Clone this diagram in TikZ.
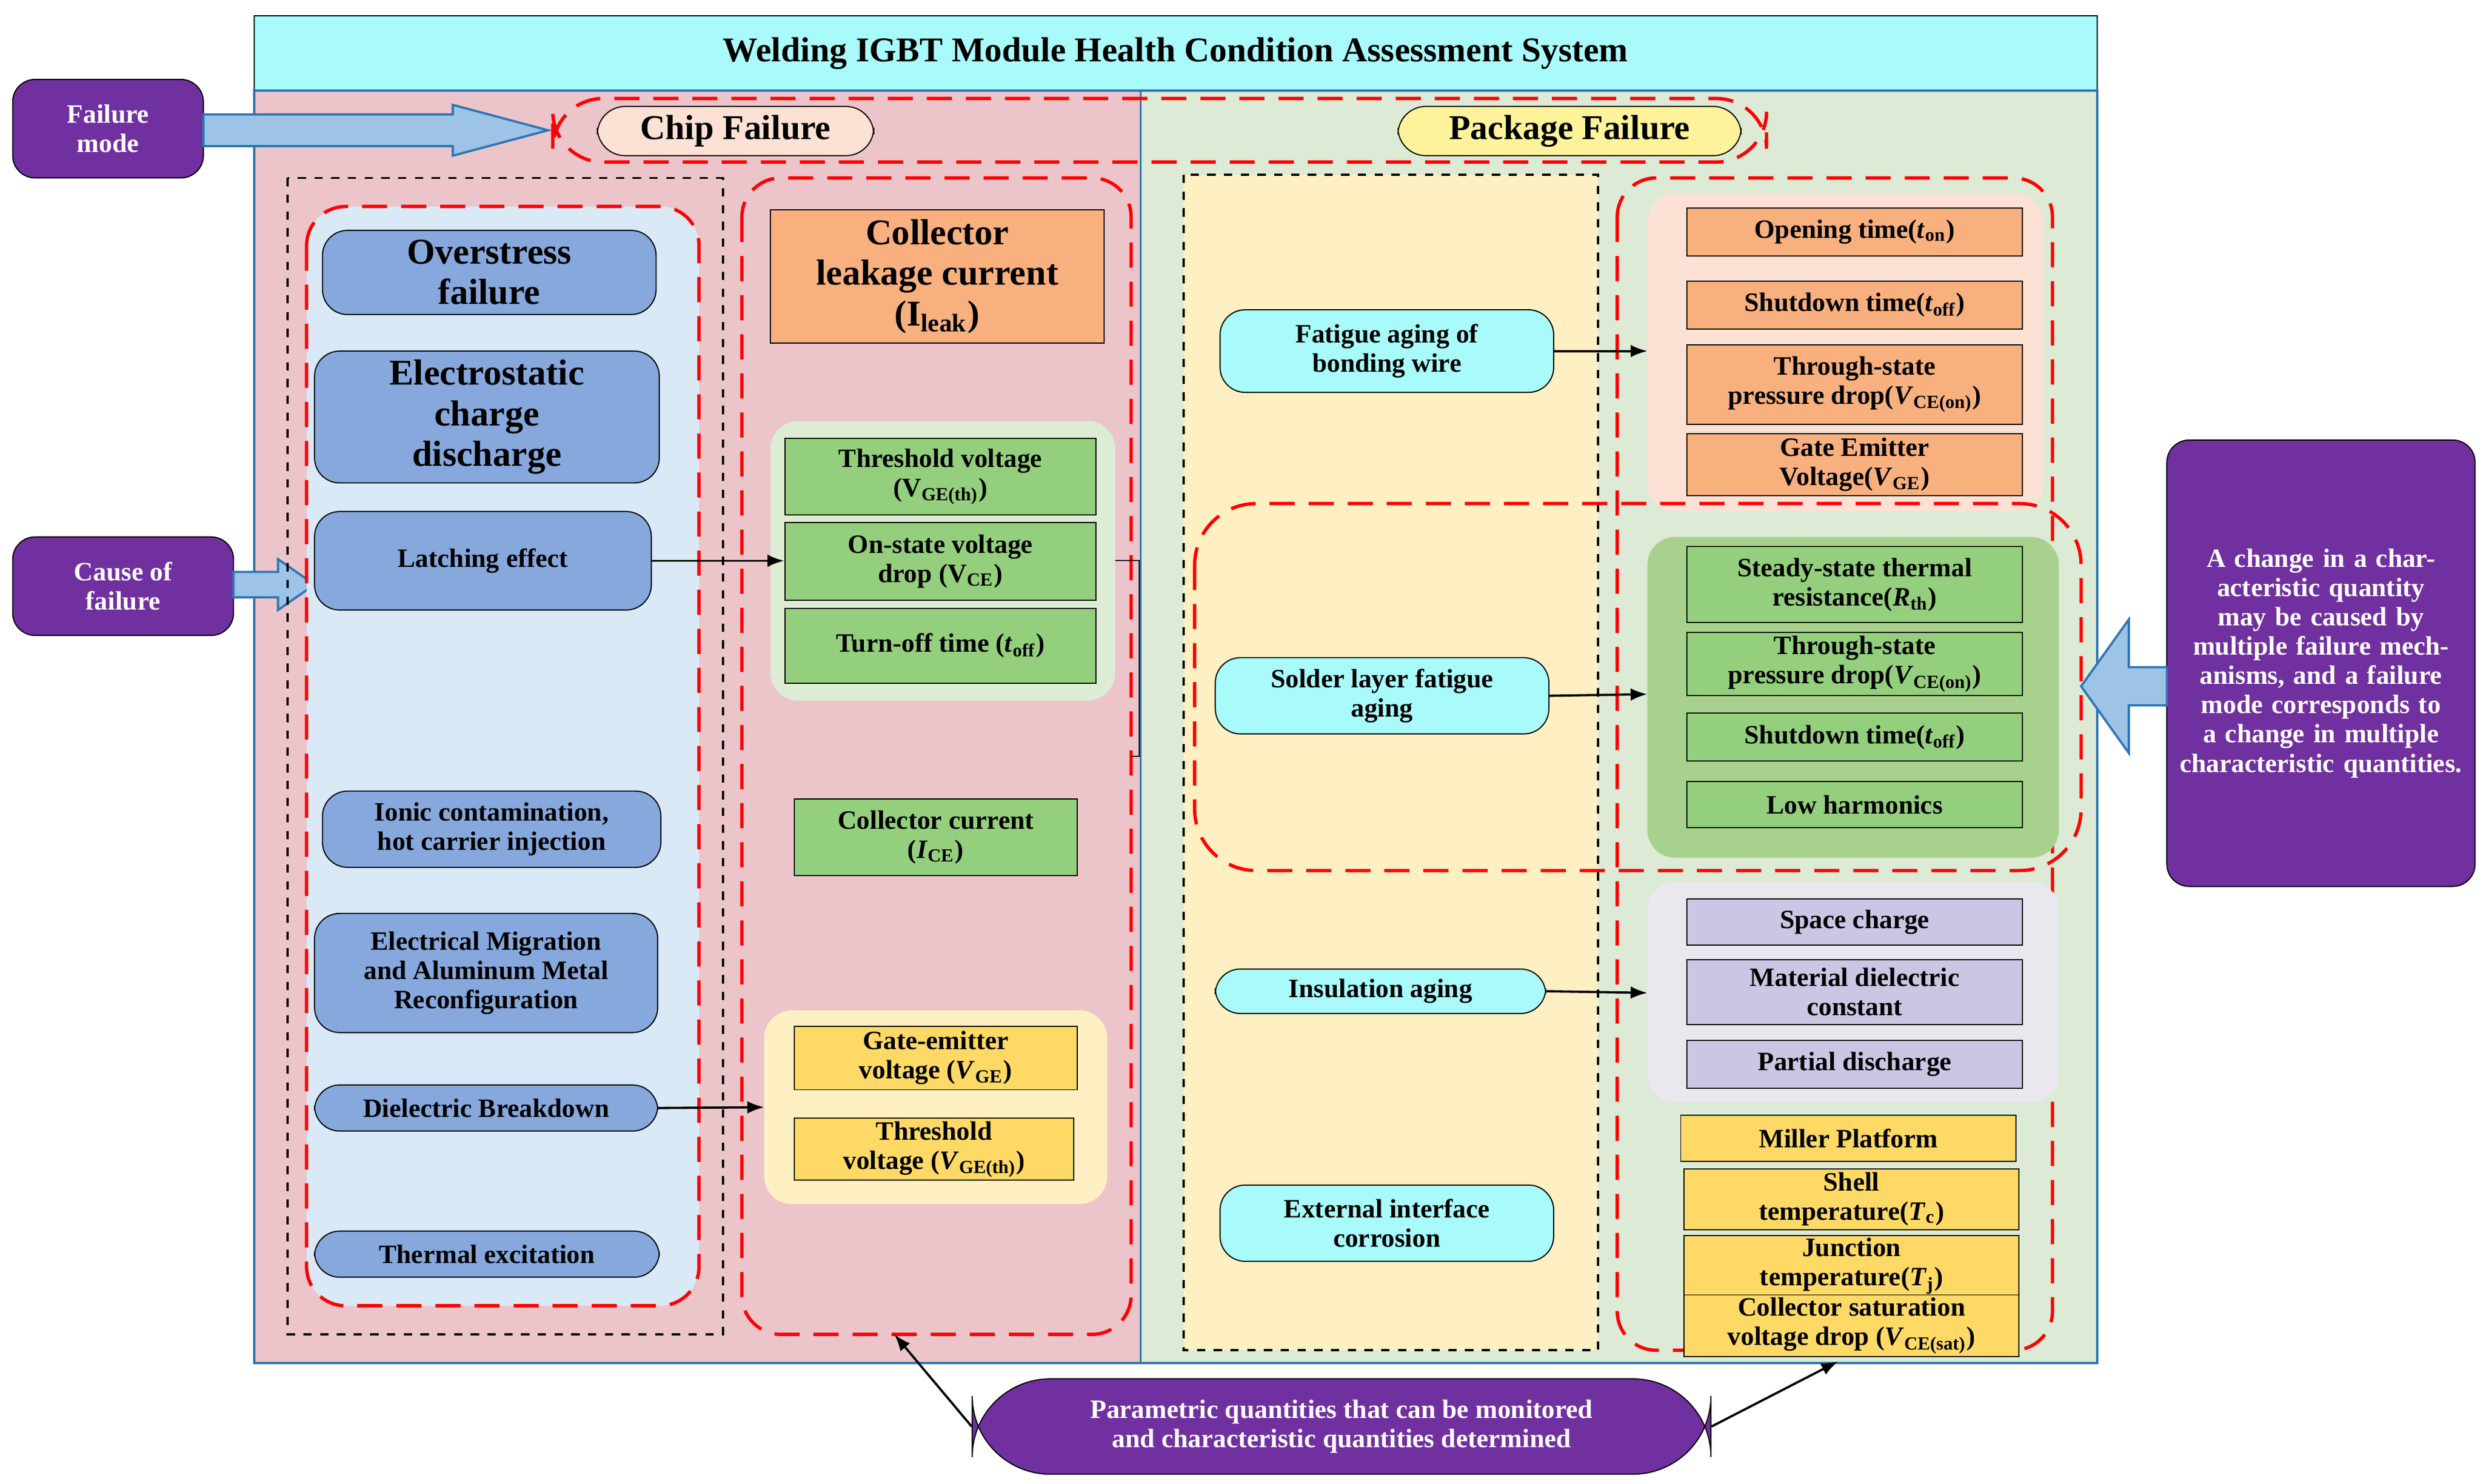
\documentclass[tikz,border=0pt]{standalone}
\usepackage{fontspec}
\setmainfont{Liberation Serif}
\usetikzlibrary{arrows.meta}
\definecolor{pk}{HTML}{EBC5CA}\definecolor{gr}{HTML}{DCEAD6}\definecolor{bl}{HTML}{2E75B6}
\definecolor{lb}{HTML}{DAE9F6}\definecolor{nb}{HTML}{86A8DC}\definecolor{or}{HTML}{F8B07E}
\definecolor{gn}{HTML}{94CF7E}\definecolor{lg}{HTML}{DDEDD4}\definecolor{ly}{HTML}{FEF0C2}
\definecolor{yl}{HTML}{FFD966}\definecolor{cy}{HTML}{A9FBFB}\definecolor{pu}{HTML}{7030A0}
\definecolor{pc}{HTML}{FCE1D4}\definecolor{gg}{HTML}{A9D18E}\definecolor{gy}{HTML}{E9E8EE}
\definecolor{lv}{HTML}{CCC6E4}\definecolor{ab}{HTML}{9DC3E6}
\newcommand\B[7]{\node[#1,minimum width={(#5-#3)*0.02cm},minimum height={(#6-#4)*0.02cm}] (#2) at ({(#3+#5)/2},{(#4+#6)/2}) {#7};}
\newcommand\R[5]{\draw[#1] (#2,#3) rectangle (#4,#5);}
\begin{document}
\begin{tikzpicture}[x=0.02cm,y=-0.02cm,
 bx/.style={draw,inner sep=1pt,align=center,font=\bfseries\fontsize{9.5}{10.5}\selectfont},
 rb/.style={bx,rounded corners=9pt,fill=nb},
 cyb/.style={bx,rounded corners=9pt,fill=cy},
 pb/.style={bx,rounded corners=8pt,fill=pu,text=white},
 rd/.style={draw=red,dashed,very thick,dash pattern=on 9pt off 5pt,rounded corners=14pt},
 kd/.style={draw,dashed,thick},
 ar/.style={-{Latex[length=6pt]},thick},
 big/.style={fill=ab,draw=bl,thick}]
\useasboundingbox (0,0) rectangle (1563,934);
\B{bx,fill=cy,font=\bfseries\fontsize{12.5}{14}\selectfont}{title}{160}{10}{1320}{57}{Welding IGBT Module Health Condition Assessment System}
\R{draw=bl,fill=pk,thick}{160}{57}{718}{858}
\R{draw=bl,fill=gr,thick}{718}{57}{1320}{858}
\B{pb}{fmode}{8}{50}{128}{112}{Failure\\mode}
\B{pb}{cfail}{8}{338}{147}{400}{Cause of\\failure}
\draw[big] (128,72)--(285,72)--(285,66)--(345,82)--(285,98)--(285,92)--(128,92)--cycle;
\draw[big] (147,360)--(175,360)--(175,352)--(198,368)--(175,384)--(175,376)--(147,376)--cycle;
\draw[rd,rounded corners=18pt] (348,62) rectangle (1112,102);
\B{bx,fill=pc,rounded corners=10pt,font=\bfseries\fontsize{12.5}{14}\selectfont}{chip}{376}{67}{550}{98}{Chip Failure}
\B{bx,fill=ly!80!yellow,rounded corners=10pt,font=\bfseries\fontsize{12.5}{14}\selectfont}{pkg}{880}{67}{1096}{98}{Package Failure}
\R{kd}{181}{112}{455}{840}
\fill[lb,rounded corners=14pt] (193,130) rectangle (440,822);
\draw[rd] (193,130) rectangle (440,822);
\B{rb,font=\bfseries\fontsize{13}{14.5}\selectfont}{ovs}{203}{145}{413}{198}{Overstress\\failure}
\B{rb,font=\bfseries\fontsize{13}{14.5}\selectfont}{esd}{198}{221}{415}{304}{Electrostatic\\charge\\discharge}
\B{rb}{latch}{198}{322}{410}{384}{Latching effect}
\B{rb}{ionic}{203}{498}{416}{546}{Ionic contamination,\\hot carrier injection}
\B{rb}{emig}{198}{575}{414}{650}{Electrical Migration\\and Aluminum Metal\\Reconfiguration}
\B{rb}{dielb}{198}{683}{414}{712}{Dielectric Breakdown}
\B{rb}{therm}{198}{775}{415}{804}{Thermal excitation}
\draw[rd] (467,112) rectangle (712,840);
\B{bx,fill=or,font=\bfseries\fontsize{13}{14.5}\selectfont}{cleak}{485}{132}{695}{216}{Collector\\leakage current\\(I\textsubscript{leak})}
\fill[lg,rounded corners=10pt] (485,265) rectangle (702,441);
\B{bx,fill=gn}{thv}{494}{276}{690}{324}{Threshold voltage\\(V\textsubscript{GE(th)})}
\B{bx,fill=gn}{onst}{494}{329}{690}{378}{On-state voltage\\drop (V\textsubscript{CE})}
\B{bx,fill=gn}{toff}{494}{383}{690}{430}{Turn-off time (\textit{t}\textsubscript{off})}
\B{bx,fill=gn}{ccur}{500}{503}{678}{551}{Collector current\\(\textit{I}\textsubscript{CE})}
\fill[ly,rounded corners=10pt] (481,636) rectangle (697,758);
\B{bx,fill=yl}{gev}{500}{646}{678}{686}{Gate-emitter\\voltage (\textit{V}\textsubscript{GE})}
\B{bx,fill=yl}{thvb}{500}{704}{676}{743}{Threshold\\voltage (\textit{V}\textsubscript{GE(th)})}
\coordinate (dbt) at (481,697);
\draw[ar] (latch.east) -- (onst.west |- latch.east);
\draw[ar] (dielb.east) -- (dbt);
\draw (702,353) -- (717,353) -- (717,476) -- (712,476);
\R{kd,fill=ly}{745}{110}{1006}{850}
\B{cyb}{fatig}{768}{195}{978}{247}{Fatigue aging of\\bonding wire}
\B{cyb}{solder}{765}{414}{975}{462}{Solder layer fatigue\\aging}
\B{cyb}{insul}{765}{610}{973}{638}{Insulation aging}
\B{cyb}{extc}{768}{746}{978}{794}{External interface\\corrosion}
\draw[rd] (1018,112) rectangle (1292,850);
\fill[pc,rounded corners=10pt] (1037,122) rectangle (1286,322);
\B{bx,fill=or}{oa}{1062}{131}{1273}{161}{Opening time(\textit{t}\textsubscript{on})}
\B{bx,fill=or}{ob}{1062}{177}{1273}{207}{Shutdown time(\textit{t}\textsubscript{off})}
\B{bx,fill=or}{oc}{1062}{217}{1273}{267}{Through-state\\pressure drop(\textit{V}\textsubscript{CE(on)})}
\B{bx,fill=or}{od}{1062}{273}{1273}{312}{Gate Emitter\\Voltage(\textit{V}\textsubscript{GE})}
\draw[rd,rounded corners=22pt] (752,317) rectangle (1310,548);
\fill[gg,rounded corners=10pt] (1037,338) rectangle (1296,540);
\B{bx,fill=gn}{ga}{1062}{344}{1273}{392}{Steady-state thermal\\resistance(\textit{R}\textsubscript{th})}
\B{bx,fill=gn}{gb}{1062}{398}{1273}{438}{Through-state\\pressure drop(\textit{V}\textsubscript{CE(on)})}
\B{bx,fill=gn}{gc}{1062}{449}{1273}{479}{Shutdown time(\textit{t}\textsubscript{off})}
\B{bx,fill=gn}{gd}{1062}{492}{1273}{521}{Low harmonics}
\fill[gy,rounded corners=10pt] (1037,555) rectangle (1296,694);
\B{bx,fill=lv}{la}{1062}{566}{1273}{595}{Space charge}
\B{bx,fill=lv}{lbx}{1062}{604}{1273}{645}{Material dielectric\\constant}
\B{bx,fill=lv}{lc}{1062}{655}{1273}{685}{Partial discharge}
\B{bx,fill=yl}{ya}{1058}{702}{1269}{731}{Miller Platform}
\B{bx,fill=yl}{yb}{1060}{736}{1271}{774}{Shell\\temperature(\textit{T}\textsubscript{c})}
\B{bx,fill=yl}{yc}{1060}{778}{1271}{816}{Junction\\temperature(\textit{T}\textsubscript{j})}
\B{bx,fill=yl}{yd}{1060}{816}{1271}{853}{Collector saturation\\voltage drop (\textit{V}\textsubscript{CE(sat)})}
\coordinate (pa) at (1037,221);\coordinate (pbb) at (1037,437);\coordinate (pc3) at (1037,625);
\draw[ar] (fatig.east) -- (pa);
\draw[ar] (solder.east) -- (pbb);
\draw[ar] (insul.east) -- (pc3);
\B{pb,text width=3.6cm}{rtext}{1364}{277}{1558}{558}{A change in a characteristic quantity may be caused by multiple failure mechanisms, and a failure mode corresponds to a change in multiple characteristic quantities.}
\draw[big] (1364,420)--(1340,420)--(1340,390)--(1310,432)--(1340,474)--(1340,444)--(1364,444)--cycle;
\B{pb,rounded corners=28pt}{pq}{612}{868}{1077}{928}{Parametric quantities that can be monitored\\and characteristic quantities determined}
\coordinate (qa) at (563,840);\coordinate (qb) at (1157,857);
\draw[ar] (pq.west) -- (qa);
\draw[ar] (pq.east) -- (qb);
\end{tikzpicture}
\end{document}
